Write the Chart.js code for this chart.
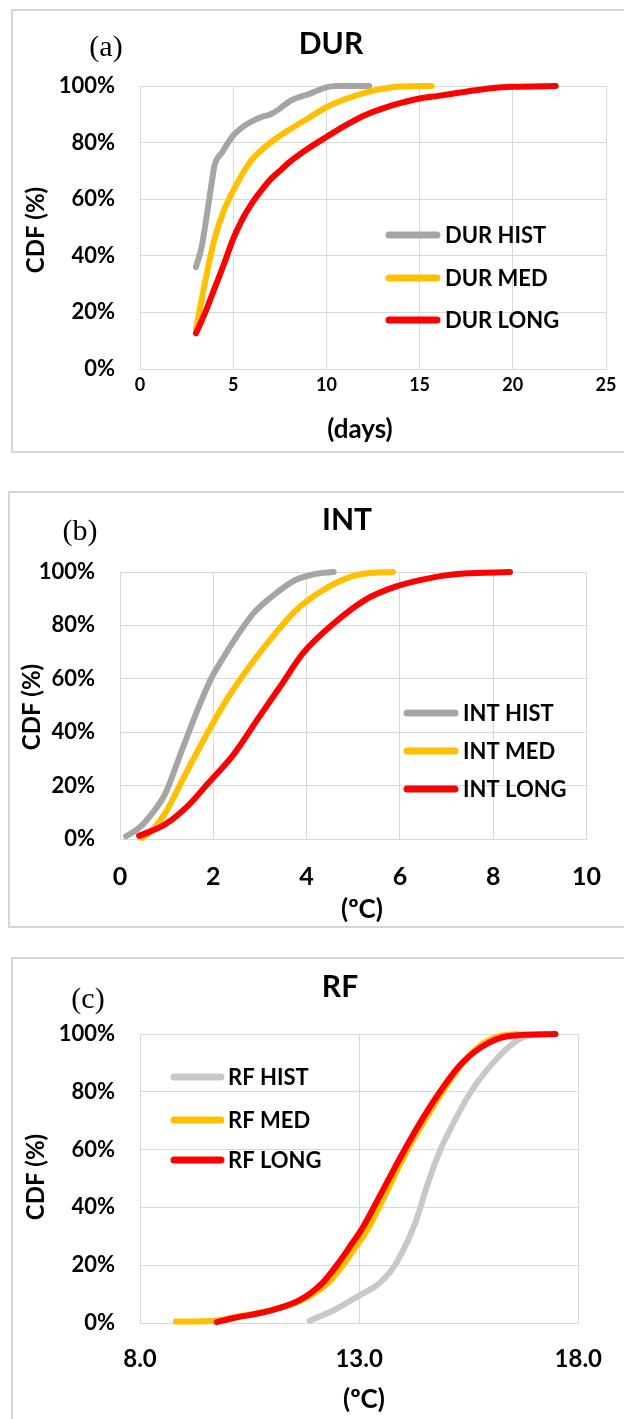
<!DOCTYPE html>
<html lang="en">
<head>
<meta charset="UTF-8">
<title>CDF of DUR, INT and RF</title>
<script src="https://cdn.jsdelivr.net/npm/chart.js"></script>
<style>
    html, body {
        margin: 0;
        padding: 0;
        width: 624px;
        height: 1419px;
        overflow: hidden;
        background: #ffffff;
    }
    .panel {
        position: absolute;
        width: 700px;
        border: 2px solid #d6d6d6;
        box-sizing: border-box;
    }
    canvas {
        position: absolute;
        left: 0;
    }
</style>
</head>
<body>

<div class="panel" style="left:11px; top:9px; height:444px;"></div>
<div class="panel" style="left:8px; top:491px; height:437px;"></div>
<div class="panel" style="left:11px; top:957px; height:600px;"></div>

<canvas id="durChart" width="624" height="470" style="top:0px;"></canvas>
<canvas id="intChart" width="624" height="470" style="top:470px;"></canvas>
<canvas id="rfChart" width="624" height="479" style="top:940px;"></canvas>

<script>
    // ---- data ----
    const pctTicks = [0, 20, 40, 60, 80, 100];

    // (a) DUR, days
    const durTicks = [0, 5, 10, 15, 20, 25];
    const durHistX = [3.0, 3.3, 3.6, 3.85, 4.0, 4.4, 5.0, 5.5, 6.0, 6.5, 7.0, 7.5, 8.0, 8.5, 9.0, 9.5, 10.0, 10.5, 12.3];
    const durHistY = [36, 43, 55, 66, 72, 76.5, 82.5, 85.5, 87.5, 89, 90, 92, 94.5, 96, 97, 98.3, 99.5, 100, 100];
    const durMedX = [3.0, 3.5, 4.0, 4.5, 5.0, 5.5, 6.0, 7.0, 8.0, 9.0, 10.0, 11.0, 12.0, 13.0, 14.0, 15.65];
    const durMedY = [14, 31, 46, 56, 63, 69, 74, 80, 84.5, 88.5, 92.5, 95.3, 97.5, 99, 99.8, 100];
    const durLongX = [3.0, 3.5, 4.0, 4.5, 5.0, 5.5, 6.0, 6.5, 7.0, 7.5, 8.0, 9.0, 10.0, 11.0, 12.0, 13.0, 14.0, 15.0, 16.0, 17.0, 18.0, 19.0, 20.0, 22.3];
    const durLongY = [12.6, 20, 28.5, 37, 46, 53, 58.5, 63, 67, 70, 73, 77.8, 82, 86, 89.5, 92, 94, 95.6, 96.5, 97.5, 98.5, 99.3, 99.7, 100];

    // (b) INT, ºC
    const intTicks = [0, 2, 4, 6, 8, 10];
    const intHistX = [0.13, 0.4, 0.64, 0.97, 1.3, 1.63, 1.95, 2.2, 2.45, 2.86, 3.27, 3.76, 4.2, 4.58];
    const intHistY = [1, 4, 8.5, 17, 32, 47, 60, 67.5, 74.5, 84.5, 91, 97, 99.3, 100];
    const intMedX = [0.48, 0.7, 0.97, 1.38, 1.79, 2.28, 2.77, 3.27, 3.76, 4.33, 4.91, 5.3, 5.85];
    const intMedY = [0.4, 3.5, 9.7, 23.5, 37, 52, 64.5, 75.7, 85.5, 93, 98, 99.5, 100];
    const intLongX = [0.41, 0.97, 1.46, 1.87, 2.45, 2.94, 3.43, 3.92, 4.58, 5.24, 5.89, 6.72, 7.37, 8.36];
    const intLongY = [1.2, 5.5, 12.5, 20.5, 32, 44.6, 57, 69.5, 80.7, 89.4, 94.4, 98, 99.4, 100];

    // (c) RF, ºC
    const rfTicks = [8, 13, 18];
    const rfHistX = [11.87, 12.42, 13.0, 13.4, 13.7, 13.95, 14.29, 14.55, 14.82, 15.18, 15.53, 15.98, 16.42, 16.77, 17.3];
    const rfHistY = [0.8, 4.4, 9.5, 13, 17.5, 23.5, 35, 47.5, 58.7, 70, 79.5, 88.7, 95.6, 99, 100];
    const rfMedX = [8.82, 9.75, 10.16, 10.9, 11.65, 12.3, 12.68, 12.98, 13.2, 13.6, 14.02, 14.45, 14.88, 15.3, 15.8, 16.2, 16.6];
    const rfMedY = [0.5, 0.8, 2, 4.2, 7.6, 14, 21, 27.6, 32.5, 44.5, 57.5, 69, 79.5, 88.7, 96.5, 99.3, 100];
    const rfLongX = [9.75, 10.16, 10.9, 11.65, 12.17, 12.54, 12.84, 13.06, 13.49, 13.93, 14.38, 14.82, 15.27, 15.8, 16.42, 17.48];
    const rfLongY = [0.3, 1.8, 4, 8, 14, 21, 27.6, 32.5, 44.5, 57, 69, 79.5, 88.7, 95.6, 99.3, 100];

    const GRAY = '#a5a5a5';
    const LIGHT_GRAY = '#c8c8c8';
    const ORANGE = '#ffc000';
    const RED = '#ff0000';
    const FONT = 'Lato, "Open Sans", sans-serif';

    Chart.defaults.font.family = FONT;
    Chart.defaults.color = '#000';

    function pairs(xs, ys) {
        return xs.map((x, i) => ({ x: x, y: ys[i] }));
    }

    function series(label, xs, ys, color, order) {
        return {
            label: label,
            data: pairs(xs, ys),
            borderColor: color,
            backgroundColor: color,
            borderWidth: 6,
            borderCapStyle: 'round',
            borderJoinStyle: 'round',
            pointRadius: 0,
            cubicInterpolationMode: 'monotone',
            fill: false,
            clip: false,
            order: order
        };
    }

    // draws panel letter, title, axis titles and the in-plot legend
    const panelDecor = {
        id: 'panelDecor',
        afterDatasetsDraw(chart, args, o) {
            const ctx = chart.ctx;
            ctx.save();
            ctx.fillStyle = '#000';
            ctx.textBaseline = 'middle';
            ctx.textAlign = 'center';

            ctx.font = '30px "Liberation Serif", "DejaVu Serif", serif';
            ctx.fillText(o.letter[0], o.letter[1], o.letter[2]);

            ctx.font = 'bold 30px ' + FONT;
            ctx.fillText(o.title[0], o.title[1], o.title[2]);

            ctx.font = 'bold 26px ' + FONT;
            ctx.fillText(o.xTitle[0], o.xTitle[1], o.xTitle[2]);

            ctx.save();
            ctx.translate(o.yTitle[1], o.yTitle[2]);
            ctx.rotate(-Math.PI / 2);
            ctx.font = 'bold 24px ' + FONT;
            ctx.fillText(o.yTitle[0], 0, 0);
            ctx.restore();

            // legend
            ctx.font = 'bold 22px ' + FONT;
            ctx.textAlign = 'left';
            ctx.lineCap = 'round';
            ctx.lineWidth = 7;
            chart.data.datasets.forEach((ds, i) => {
                const y = o.legend.ys[i];
                ctx.strokeStyle = ds.borderColor;
                ctx.beginPath();
                ctx.moveTo(o.legend.x1, y);
                ctx.lineTo(o.legend.x2, y);
                ctx.stroke();
                ctx.fillText(ds.label, o.legend.tx, y + 1);
            });
            ctx.restore();
        }
    };

    function makeChart(id, cfg) {
        const ctx = document.getElementById(id).getContext('2d');
        return new Chart(ctx, {
            type: 'line',
            data: { datasets: cfg.datasets },
            options: {
                responsive: false,
                animation: false,
                devicePixelRatio: 1,
                layout: {
                    padding: { top: cfg.top, right: cfg.right, left: 0, bottom: 0 }
                },
                plugins: {
                    legend: { display: false },
                    tooltip: { enabled: false },
                    panelDecor: cfg.decor
                },
                scales: {
                    x: {
                        type: 'linear',
                        min: cfg.xTicks[0],
                        max: cfg.xTicks[cfg.xTicks.length - 1],
                        afterBuildTicks: s => { s.ticks = cfg.xTicks.map(v => ({ value: v })); },
                        afterFit: s => { s.height = cfg.xHeight; },
                        grid: { color: '#d9d9d9', lineWidth: 1, drawTicks: false },
                        border: { color: '#d9d9d9' },
                        ticks: {
                            padding: cfg.xPad,
                            maxRotation: 0,
                            autoSkip: false,
                            font: { size: cfg.xFont, weight: 'bold' },
                            callback: cfg.xFormat
                        }
                    },
                    y: {
                        type: 'linear',
                        min: 0,
                        max: 100,
                        afterBuildTicks: s => { s.ticks = pctTicks.map(v => ({ value: v })); },
                        afterFit: s => { s.width = cfg.yWidth; },
                        grid: { color: '#d9d9d9', lineWidth: 1, drawTicks: false },
                        border: { color: '#d9d9d9' },
                        ticks: {
                            padding: 25,
                            font: { size: 22, weight: 'bold' },
                            callback: v => v + '%'
                        }
                    }
                }
            },
            plugins: [panelDecor]
        });
    }

    makeChart('durChart', {
        datasets: [
            series('DUR HIST', durHistX, durHistY, GRAY, 2),
            series('DUR MED', durMedX, durMedY, ORANGE, 1),
            series('DUR LONG', durLongX, durLongY, RED, 0)
        ],
        xTicks: durTicks,
        xFormat: v => String(v),
        top: 86, right: 18, yWidth: 140, xHeight: 101,
        xPad: 5, xFont: 18,
        decor: {
            letter: ['(a)', 106, 48],
            title: ['DUR', 331, 44],
            xTitle: ['(days)', 360, 430],
            yTitle: ['CDF (%)', 36, 230],
            legend: { x1: 389, x2: 437, tx: 445, ys: [235, 278, 320] }
        }
    });

    makeChart('intChart', {
        datasets: [
            series('INT HIST', intHistX, intHistY, GRAY, 2),
            series('INT MED', intMedX, intMedY, ORANGE, 1),
            series('INT LONG', intLongX, intLongY, RED, 0)
        ],
        xTicks: intTicks,
        xFormat: v => String(v),
        top: 102, right: 19, yWidth: 120, xHeight: 101,
        xPad: 23, xFont: 25,
        decor: {
            letter: ['(b)', 80, 62],
            title: ['INT', 347, 50],
            xTitle: ['(ºC)', 362, 440],
            yTitle: ['CDF (%)', 32, 237],
            legend: { x1: 407, x2: 455, tx: 463, ys: [243, 281, 319] }
        }
    });

    makeChart('rfChart', {
        datasets: [
            series('RF HIST', rfHistX, rfHistY, LIGHT_GRAY, 2),
            series('RF MED', rfMedX, rfMedY, ORANGE, 1),
            series('RF LONG', rfLongX, rfLongY, RED, 0)
        ],
        xTicks: rfTicks,
        xFormat: v => v.toFixed(1),
        top: 94, right: 36, yWidth: 140, xHeight: 96,
        xPad: 22, xFont: 24,
        decor: {
            letter: ['(c)', 88, 60],
            title: ['RF', 340, 47],
            xTitle: ['(ºC)', 364, 460],
            yTitle: ['CDF (%)', 36, 237],
            legend: { x1: 174, x2: 221, tx: 228, ys: [137, 180, 220] }
        }
    });
</script>

</body>
</html>
